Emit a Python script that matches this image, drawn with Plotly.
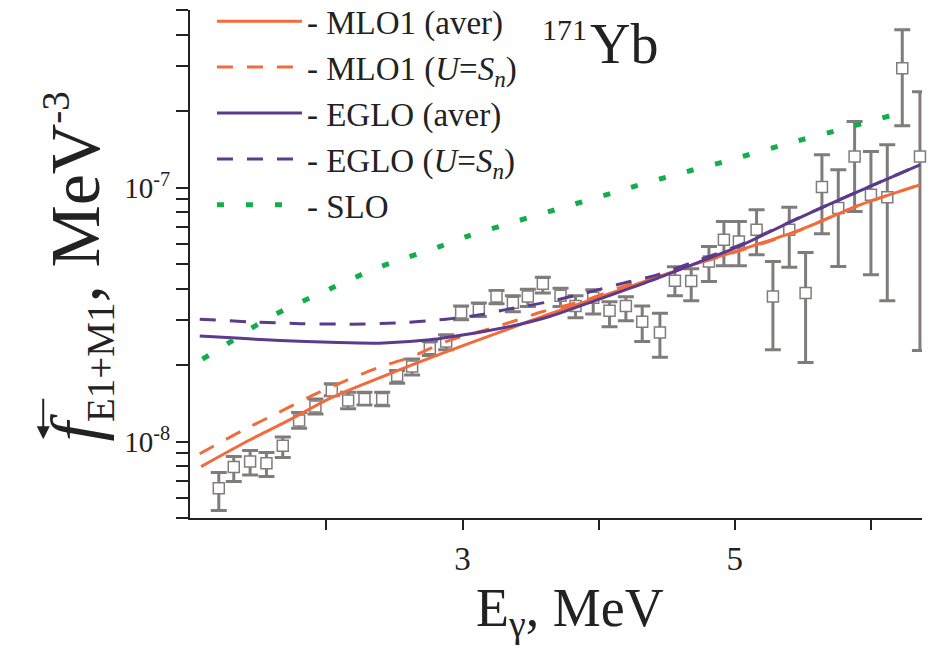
import numpy as np
import plotly.graph_objects as go

# ---------------- data ----------------
E_exp = [1.21, 1.32, 1.44, 1.56, 1.68, 1.80, 1.92, 2.04, 2.16, 2.28, 2.41, 2.52,
         2.63, 2.76, 2.88, 2.99, 3.12, 3.25, 3.37, 3.48, 3.59, 3.72, 3.83, 3.96,
         4.08, 4.20, 4.32, 4.45, 4.56, 4.68, 4.81, 4.92, 5.03, 5.16, 5.28, 5.40,
         5.52, 5.64, 5.76, 5.88, 6.00, 6.12, 6.23, 6.36]
# values in units of 1e-8 MeV^-3
f_exp = [0.655, 0.793, 0.834, 0.822, 0.962, 1.21, 1.373, 1.588, 1.45, 1.469, 1.469, 1.814,
         1.974, 2.332, 2.476, 3.22, 3.30, 3.724, 3.517, 3.724, 4.177, 3.747, 3.42, 3.68,
         3.27, 3.42, 2.96, 2.686, 4.30, 4.29, 5.113, 6.225, 6.13, 6.817, 3.724, 6.817,
         3.84, 10.04, 8.30, 13.24, 9.36, 9.166, 29.51, 13.24]
f_hi = [0.755, 0.873, 0.922, 0.905, 1.041, 1.30, 1.469, 1.687, 1.565, 1.565, 1.565, 1.903,
        2.111, 2.476, 2.63, 3.42, 3.507, 3.93, 3.747, 3.98, 4.439, 4.017, 3.747, 3.955,
        3.548, 3.713, 3.42, 3.203, 4.874, 4.786, 5.857, 7.347, 7.347, 8.172, 5.113, 8.37,
        5.548, 13.45, 11.74, 18.19, 13.86, 14.73, 41.77, 23.82]
f_lo = [0.535, 0.696, 0.739, 0.728, 0.865, 1.129, 1.285, 1.513, 1.345, 1.394, 1.382, 1.698,
        1.83, 2.181, 2.296, 3.014, 3.105, 3.485, 3.24, 3.40, 3.84, 3.40, 3.069, 3.18,
        2.83, 2.99, 2.476, 2.149, 3.747, 3.58, 4.265, 4.918, 4.918, 5.433, 2.296, 4.86,
        2.046, 6.573, 4.887, 8.046, 4.532, 3.58, 17.5, 2.282]

E_mlo_av = [1.08, 1.44, 1.73, 2.03, 2.39, 2.84, 3.28, 3.64, 4.16, 4.67, 5.04, 5.48, 5.92, 6.36]
f_mlo_av = [0.797, 1.016, 1.217, 1.482, 1.782, 2.214, 2.704, 3.18, 3.955, 4.918, 5.685, 6.817, 8.55, 10.25]

E_mlo_sn = [1.07, 1.38, 1.64, 1.88, 2.14, 2.38, 2.63, 2.88, 3.13, 3.37, 3.59, 3.91, 4.18,
            4.43, 4.69, 4.94, 5.41, 5.92, 6.36]
f_mlo_sn = [0.895, 1.102, 1.294, 1.503, 1.734, 1.954, 2.161, 2.476, 2.71, 2.969, 3.25, 3.613,
            4.077, 4.463, 4.962, 5.433, 6.573, 8.55, 10.25]

E_eglo_av = [1.07, 1.37, 1.66, 2.03, 2.39, 2.76, 3.06, 3.35, 3.64, 4.01, 4.38, 4.74, 5.04,
             5.41, 5.85, 6.36]
f_eglo_av = [2.606, 2.548, 2.498, 2.458, 2.44, 2.514, 2.655, 2.836, 3.105, 3.646, 4.293,
             5.099, 5.896, 7.328, 9.36, 12.29]

E_eglo_sn = [1.07, 1.44, 1.81, 2.17, 2.54, 2.88, 3.13, 3.37, 3.61, 3.90, 4.18, 4.43, 4.70,
             5.04, 5.41, 5.85, 6.36]
f_eglo_sn = [3.033, 2.96, 2.912, 2.899, 2.933, 3.033, 3.154, 3.35, 3.532, 3.84, 4.203, 4.532,
             5.10, 5.95, 7.35, 9.36, 12.29]

E_slo = [1.09, 1.31, 1.53, 1.75, 1.97, 2.17, 2.39, 2.60, 2.82, 3.03, 3.68, 4.11, 4.54,
         4.97, 5.40, 5.83, 6.27]
f_slo = [2.111, 2.498, 2.969, 3.42, 3.86, 4.331, 4.86, 5.321, 5.828, 6.414, 8.172, 9.557,
         11.15, 12.85, 14.96, 17.23, 20.04]

x_tickvals = [2, 3, 4, 5, 6]
x_ticktext = ["", "3", "", "5", ""]
y_tickvals = [5e-9, 6e-9, 7e-9, 8e-9, 9e-9, 1e-8, 2e-8, 3e-8, 4e-8, 5e-8, 6e-8, 7e-8, 8e-8,
              9e-8, 1e-7, 2e-7, 3e-7, 4e-7, 5e-7]
y_ticktext = ["", "", "", "", "", "10<sup>-8</sup>", "", "", "", "", "", "", "", "",
              "10<sup>-7</sup>", "", "", "", ""]

SCALE = 1e-8
# ----------------------------------------------------------------

def sc(v):
    return np.array(v) * SCALE

FONT = "Liberation Serif"
INK = "#222222"
ORANGE = "#f26b3a"
PURPLE = "#5b3b8c"
GREEN = "#13ad4a"
GRAY = "#817c7c"

fy = sc(f_exp)
err_plus = sc(f_hi) - fy
err_minus = fy - sc(f_lo)

fig = go.Figure()

fig.add_trace(go.Scatter(
    x=E_exp, y=fy, mode="markers", showlegend=False, cliponaxis=False,
    marker=dict(symbol="square", size=11, color="white", line=dict(color=GRAY, width=1.5)),
    error_y=dict(type="data", array=err_plus, arrayminus=err_minus, symmetric=False,
                 color=GRAY, thickness=3, width=8),
))

def curve(x, y, name, color, dash, width=3):
    fig.add_trace(go.Scatter(
        x=x, y=sc(y), mode="lines", name=name,
        line=dict(color=color, width=width, dash=dash, shape="spline", smoothing=0.8),
    ))

curve(E_mlo_av, f_mlo_av, "- MLO1 (aver)", ORANGE, "solid")
curve(E_mlo_sn, f_mlo_sn, "- MLO1 (<i>U</i>=<i>S<sub>n</sub></i>)", ORANGE, "16px,14px")
curve(E_eglo_av, f_eglo_av, "- EGLO (aver)", PURPLE, "solid")
curve(E_eglo_sn, f_eglo_sn, "- EGLO (<i>U</i>=<i>S<sub>n</sub></i>)", PURPLE, "16px,14px")
curve(E_slo, f_slo, "- SLO", GREEN, "7px,22px", width=5)

fig.update_layout(
    width=935, height=658,
    margin=dict(l=190, r=13, t=10, b=140, autoexpand=False),
    plot_bgcolor="white", paper_bgcolor="white",
    font=dict(family=FONT, color=INK),
    legend=dict(x=0.03, y=1.033, xanchor="left", yanchor="top",
                font=dict(family=FONT, size=33, color=INK),
                bgcolor="rgba(0,0,0,0)", itemwidth=85, tracegroupgap=0),
)

fig.update_xaxes(
    range=[0.9985, 6.375], tickvals=x_tickvals, ticktext=x_ticktext,
    ticks="outside", ticklen=10, tickwidth=2, tickcolor=INK,
    showline=True, linewidth=2, linecolor=INK, mirror=False,
    showgrid=False, zeroline=False,
    tickfont=dict(family=FONT, size=33, color=INK),
)
fig.update_yaxes(
    type="log", range=[np.log10(5e-9), np.log10(5e-7)],
    tickvals=y_tickvals, ticktext=y_ticktext,
    ticks="outside", ticklen=12, tickwidth=2, tickcolor=INK,
    showline=True, linewidth=2, linecolor=INK, mirror=False,
    showgrid=False, zeroline=False,
    tickfont=dict(family=FONT, size=29, color=INK),
)

fig.add_annotation(text="171", xref="paper", yref="paper", x=0.511, y=0.962,
                   xanchor="center", yanchor="middle",
                   showarrow=False, font=dict(family=FONT, size=30, color=INK))
fig.add_annotation(text="Yb", xref="paper", yref="paper", x=0.593, y=0.933,
                   xanchor="center", yanchor="middle",
                   showarrow=False, font=dict(family=FONT, size=56, color=INK))
fig.add_annotation(text="E<sub>γ</sub>, MeV", xref="paper", yref="paper", x=0.519, y=-0.185,
                   xanchor="center", yanchor="middle",
                   showarrow=False, font=dict(family=FONT, size=54, color=INK))
fig.add_annotation(
    text=('<i>f</i><sub><span style="font-size:39px">E1+M1</span></sub>, MeV'
          '<sup><span style="font-size:39px">-3</span></sup>'),
    xref="paper", yref="paper", x=-0.153, y=0.495, textangle=-90,
    xanchor="center", yanchor="middle", showarrow=False,
    font=dict(family=FONT, size=70, color=INK))
# small arrow over the f symbol
fig.add_annotation(text="", xref="paper", yref="paper", x=-0.2005, y=0.155,
                   ax=0, ay=-42, showarrow=True, arrowhead=2, arrowsize=1.3,
                   arrowwidth=2, arrowcolor=INK)

fig.write_html("out.html")
